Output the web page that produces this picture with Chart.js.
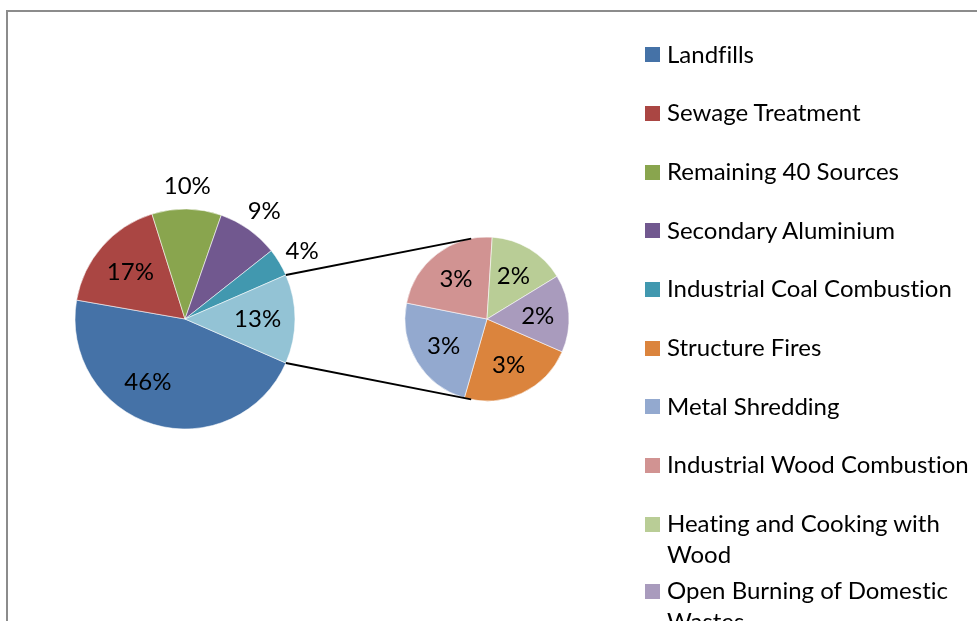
<!DOCTYPE html>
<html>
<head>
<meta charset="utf-8">
<script src="https://cdn.jsdelivr.net/npm/chart.js@4.4.1/dist/chart.umd.min.js"></script>
<style>
  html, body { margin: 0; padding: 0; background: #fff; }
  body { width: 977px; height: 621px; overflow: hidden; position: relative; font-family: Lato, "Open Sans", sans-serif; font-variant-ligatures: none; }
  #frame { position: absolute; left: 6px; top: 10px; width: 1000px; height: 700px; border-left: 2px solid #8c8c8c; border-top: 2px solid #8c8c8c; }
  canvas { position: absolute; }
  #mainPie { left: 15px; top: 149px; }
  #subPie { left: 387px; top: 219px; }
  #links { left: 0; top: 0; pointer-events: none; }
  #legend { position: absolute; left: 645px; top: 0; }
  .item { position: absolute; left: 0; width: 340px; font-size: 24px; line-height: 31px; color: #000; }
  .item .swatch { position: absolute; left: 0; top: 9.8px; width: 15px; height: 15px; }
  .item .text { margin-left: 22px; width: 312px; }
</style>
</head>
<body>
<div id="frame"></div>
<canvas id="mainPie" width="340" height="340"></canvas>
<canvas id="subPie" width="200" height="200"></canvas>
<canvas id="links" width="977" height="621"></canvas>
<div id="legend"></div>
<script>
// Dioxin emission sources, share of total (%)
const mainCategories = ['Landfills', 'Sewage Treatment', 'Remaining 40 Sources', 'Secondary Aluminium', 'Industrial Coal Combustion'];
const mainValues = [46.2, 17.4, 10.2, 9.0, 4.1];
const splitCategories = ['Structure Fires', 'Metal Shredding', 'Industrial Wood Combustion', 'Heating and Cooking with Wood', 'Open Burning of Domestic Wastes'];
const splitValues = [3.0, 3.1, 3.0, 2.0, 2.0];

const mainColors = ['#4572A7', '#AA4643', '#89A54E', '#71588F', '#4198AF'];
const otherColor = '#93C3D5';
const splitColors = ['#DB843D', '#93A9CF', '#D19392', '#B9CD96', '#A99BBD'];

const sum = a => a.reduce((s, v) => s + v, 0);
const otherValue = +sum(splitValues).toFixed(1);
const grandTotal = sum(mainValues) + otherValue;
// the grouped slice sits centred on the right-hand side of the main pie
const startRotation = 90 + (otherValue / grandTotal * 360) / 2;

const labelFont = 24;

const pctLabels = {
  id: 'pctLabels',
  afterDatasetsDraw(chart, args, opts) {
    const ctx = chart.ctx;
    const meta = chart.getDatasetMeta(0);
    const data = chart.data.datasets[0].data;
    ctx.save();
    ctx.font = labelFont + 'px Lato, "Open Sans", sans-serif';
    ctx.fillStyle = '#000';
    ctx.textAlign = 'center';
    ctx.textBaseline = 'alphabetic';
    meta.data.forEach((arc, i) => {
      const text = Math.round(data[i] / grandTotal * 100) + '%';
      const mid = (arc.startAngle + arc.endAngle) / 2 + ((opts.shift && opts.shift[i]) || 0) * Math.PI / 180;
      const c = Math.cos(mid), s = Math.sin(mid);
      let x, y;
      if (opts.outside && opts.outside.includes(i)) {
        const w = ctx.measureText(text).width, h = opts.boxHeight;
        const r = arc.outerRadius + opts.gap;
        x = arc.x + c * r + c * w / 2;
        y = arc.y + s * r + s * h / 2;
      } else {
        const r = arc.outerRadius * opts.inner;
        x = arc.x + c * r;
        y = arc.y + s * r;
      }
      ctx.fillText(text, x, y + labelFont * 0.35);
    });
    ctx.restore();
  }
};

const commonOptions = {
  responsive: false,
  animation: false,
  events: [],
  rotation: startRotation,
  plugins: { legend: { display: false }, tooltip: { enabled: false } }
};

const mainChart = new Chart(document.getElementById('mainPie'), {
  type: 'pie',
  data: {
    labels: [...mainCategories, 'Other'],
    datasets: [{
      data: [...mainValues, otherValue],
      backgroundColor: [...mainColors, otherColor],
      borderColor: 'rgba(255,255,255,0.55)',
      borderWidth: 1
    }]
  },
  options: {
    ...commonOptions,
    layout: { padding: 59.5 },
    plugins: { ...commonOptions.plugins, pctLabels: { inner: 0.66, outside: [2, 3, 4], gap: 10, boxHeight: 26, shift: { 0: 14 } } }
  },
  plugins: [pctLabels]
});

const subChart = new Chart(document.getElementById('subPie'), {
  type: 'pie',
  data: {
    labels: splitCategories,
    datasets: [{
      data: splitValues,
      backgroundColor: splitColors,
      borderColor: 'rgba(255,255,255,0.55)',
      borderWidth: 1
    }]
  },
  options: {
    ...commonOptions,
    layout: { padding: 17.5 },
    plugins: { ...commonOptions.plugins, pctLabels: { inner: 0.62 } }
  },
  plugins: [pctLabels]
});

// connector lines: from the edges of the grouped slice, tangent to the breakdown pie
(function drawLinks() {
  const mc = document.getElementById('mainPie'), sc = document.getElementById('subPie');
  const m = mainChart.getDatasetMeta(0).data[mainValues.length];
  const s = subChart.getDatasetMeta(0).data[0];
  const cx = m.x + mc.offsetLeft, cy = m.y + mc.offsetTop, R = m.outerRadius;
  const sx = s.x + sc.offsetLeft, sy = s.y + sc.offsetTop, r = s.outerRadius;
  const ctx = document.getElementById('links').getContext('2d');
  ctx.strokeStyle = '#000';
  ctx.lineWidth = 1.8;
  [m.startAngle, m.endAngle].forEach((a, k) => {
    const px = cx + R * Math.cos(a), py = cy + R * Math.sin(a);
    const dx = px - sx, dy = py - sy;
    const d = Math.hypot(dx, dy);
    const phi = Math.atan2(dy, dx), beta = Math.acos(r / d);
    const t = k === 0 ? phi + beta : phi - beta;
    ctx.beginPath();
    ctx.moveTo(px, py);
    ctx.lineTo(sx + r * Math.cos(t), sy + r * Math.sin(t));
    ctx.stroke();
  });
})();

// legend
(function buildLegend() {
  const legend = document.getElementById('legend');
  const names = [...mainCategories, ...splitCategories];
  const colors = [...mainColors, ...splitColors];
  const rowPitch = 58.7, wrapPitch = 67, lineH = 31, baselineInLine = 24.8;
  let baseline = 62.3;
  names.forEach((name, i) => {
    const item = document.createElement('div');
    item.className = 'item';
    item.style.top = (baseline - baselineInLine) + 'px';
    const sw = document.createElement('div');
    sw.className = 'swatch';
    sw.style.background = colors[i];
    const tx = document.createElement('div');
    tx.className = 'text';
    tx.textContent = name;
    item.appendChild(sw);
    item.appendChild(tx);
    legend.appendChild(item);
    baseline += tx.offsetHeight > lineH ? wrapPitch : rowPitch;
  });
})();
</script>
</body>
</html>
